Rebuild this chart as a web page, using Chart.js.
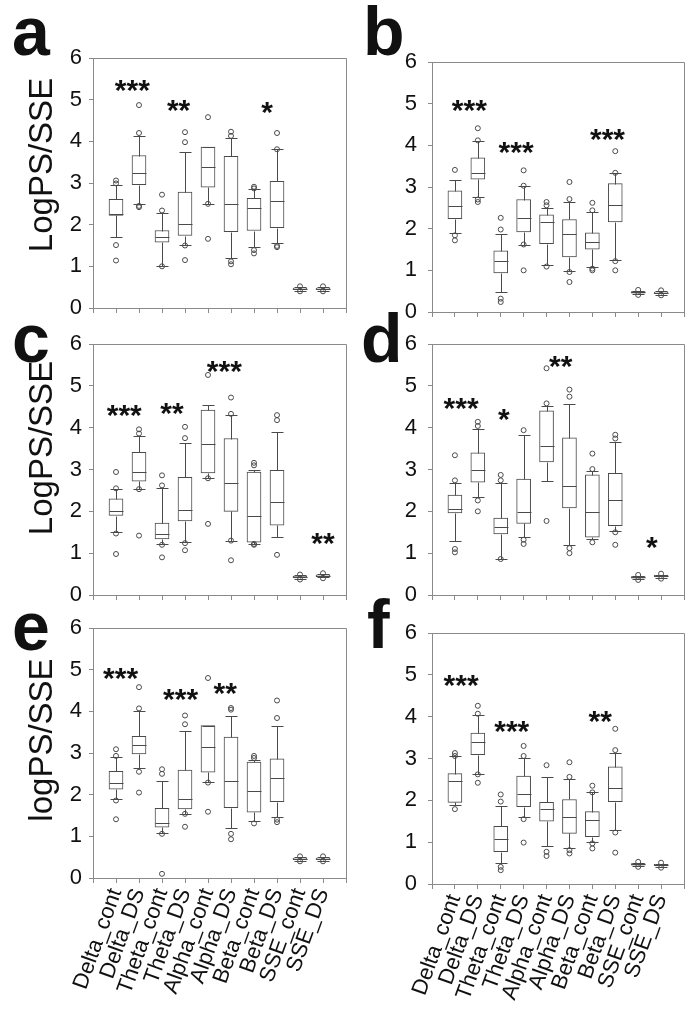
<!DOCTYPE html>
<html>
<head>
<meta charset="utf-8">
<script src="https://cdn.jsdelivr.net/npm/chart.js@4/dist/chart.umd.min.js"></script>
<style>
  body { margin: 0; background: #fff; width: 698px; height: 1011px; position: relative; overflow: hidden;
         font-family: "Liberation Sans", Arial, sans-serif; color: #111; }
  canvas { position: absolute; }
  .letter { position: absolute; font-weight: bold; font-size: 68px; line-height: 1; }
  .ytitle { position: absolute; font-size: 33px; line-height: 1; white-space: nowrap;
            transform: translate(-50%, -50%) rotate(-90deg); }
</style>
</head>
<body>
<script>
// categories shared by all six panels
const categories = ['Delta_cont', 'Delta_DS', 'Theta_cont', 'Theta_DS', 'Alpha_cont',
                    'Alpha_DS', 'Beta_cont', 'Beta_DS', 'SSE_cont', 'SSE_DS'];
const yTicks = [0, 1, 2, 3, 4, 5, 6];

// boxes: [lower whisker, Q1, median, Q3, upper whisker]
const aBoxes = [
    [1.71, 2.22, 2.26, 2.61, 2.95], [2.50, 2.96, 3.24, 3.66, 4.12], [1.01, 1.58, 1.70, 1.86, 2.28],
    [1.52, 1.74, 2.01, 2.78, 3.75], [2.50, 2.90, 3.38, 3.86, 3.86], [1.21, 1.83, 2.50, 3.64, 4.07],
    [1.46, 1.86, 2.39, 2.63, 2.85], [1.55, 1.93, 2.57, 3.04, 3.81], [0.42, 0.44, 0.46, 0.48, 0.50],
    [0.42, 0.44, 0.46, 0.48, 0.50],
];
const aOutliers = [
    [3.06, 2.99, 1.51, 1.14], [4.87, 4.20, 2.45, 2.42], [2.72, 2.34, 1.00], [4.22, 3.98, 1.50, 1.15],
    [4.58, 2.50, 1.66], [4.23, 4.13, 1.12, 1.05], [2.91, 2.87, 1.39, 1.31], [4.20, 3.81, 1.49, 1.46],
    [0.52, 0.40], [0.52, 0.40],
];
const aStars = [{ x: 1.71, y: 5.41, t: '***' }, { x: 3.72, y: 4.93, t: '**' }, { x: 7.57, y: 4.87, t: '*' }];

const bBoxes = [
    [1.90, 2.24, 2.55, 2.91, 3.18], [2.77, 3.19, 3.33, 3.70, 4.10], [0.48, 0.94, 1.23, 1.47, 1.88],
    [1.62, 1.92, 2.26, 2.70, 3.03], [1.14, 1.64, 2.15, 2.33, 2.50], [0.98, 1.32, 1.88, 2.22, 2.63],
    [1.08, 1.51, 1.67, 1.90, 2.39], [1.24, 2.16, 2.56, 3.08, 3.33], [0.43, 0.45, 0.47, 0.49, 0.51],
    [0.42, 0.44, 0.46, 0.48, 0.50],
];
const bOutliers = [
    [3.41, 1.84, 1.72], [4.41, 4.12, 2.70, 2.64], [2.26, 1.98, 0.32, 0.24], [3.40, 3.03, 1.62, 1.00],
    [2.64, 2.56, 1.09], [3.12, 2.71, 0.96, 0.72], [2.62, 2.44, 1.04, 1.00], [3.86, 3.34, 1.22, 1.00],
    [0.53, 0.41], [0.52, 0.40],
];
const bStars = [{ x: 1.63, y: 5.02, t: '***' }, { x: 3.67, y: 4.02, t: '***' }, { x: 7.66, y: 4.31, t: '***' }];

const cBoxes = [
    [1.51, 1.90, 2.01, 2.30, 2.53], [2.53, 2.72, 2.94, 3.41, 3.80], [1.22, 1.34, 1.47, 1.72, 2.55],
    [1.26, 1.77, 2.04, 2.81, 3.63], [2.79, 2.92, 3.62, 4.42, 4.54], [1.30, 2.00, 2.68, 3.74, 4.31],
    [1.23, 1.26, 1.89, 2.94, 2.98], [1.39, 1.67, 2.22, 2.98, 3.90], [0.39, 0.41, 0.43, 0.45, 0.47],
    [0.42, 0.44, 0.46, 0.48, 0.50],
];
const cOutliers = [
    [2.94, 2.55, 1.47, 0.98], [3.96, 3.86, 2.53, 1.42], [2.86, 2.62, 1.20, 0.90], [4.02, 3.75, 1.24, 1.07],
    [5.26, 2.79, 1.70], [4.72, 4.33, 1.30, 0.83], [3.16, 3.10, 1.22, 1.20], [4.30, 4.18, 0.96],
    [0.49, 0.37], [0.52, 0.40],
];
const cStars = [{ x: 1.36, y: 4.46, t: '***' }, { x: 3.43, y: 4.52, t: '**' }, { x: 5.71, y: 5.51, t: '***' },
                { x: 10.0, y: 1.40, t: '**' }];

const dBoxes = [
    [1.28, 1.96, 2.06, 2.39, 2.68], [2.34, 2.70, 2.99, 3.40, 3.98], [0.86, 1.46, 1.62, 1.84, 2.67],
    [1.38, 1.71, 1.98, 2.77, 3.82], [2.73, 3.18, 3.56, 4.40, 4.52], [1.20, 2.08, 2.61, 3.76, 4.56],
    [1.35, 1.38, 1.98, 2.87, 2.96], [1.53, 1.66, 2.26, 2.91, 3.66], [0.38, 0.40, 0.42, 0.44, 0.46],
    [0.41, 0.43, 0.45, 0.47, 0.49],
];
const dOutliers = [
    [3.34, 2.74, 1.10, 1.02], [4.14, 4.04, 2.26, 2.00], [2.87, 2.74, 0.86], [3.94, 1.32, 1.22],
    [5.42, 4.58, 1.77], [4.91, 4.74, 1.12, 1.00], [3.38, 3.01, 1.26], [3.83, 3.74, 1.50, 1.20],
    [0.48, 0.36], [0.51, 0.39],
];
const dStars = [{ x: 1.27, y: 4.64, t: '***' }, { x: 3.14, y: 4.38, t: '*' }, { x: 5.62, y: 5.64, t: '**' },
                { x: 9.6, y: 1.32, t: '*' }];

const eBoxes = [
    [1.90, 2.13, 2.28, 2.56, 2.90], [2.65, 2.98, 3.19, 3.40, 4.00], [1.07, 1.22, 1.33, 1.67, 2.34],
    [1.54, 1.66, 1.90, 2.59, 3.53], [2.31, 2.54, 3.15, 3.66, 3.66], [1.20, 1.69, 2.34, 3.38, 3.90],
    [1.36, 1.58, 2.08, 2.78, 2.84], [1.46, 1.83, 2.39, 2.86, 3.66], [0.42, 0.44, 0.46, 0.48, 0.50],
    [0.42, 0.44, 0.46, 0.48, 0.50],
];
const eOutliers = [
    [3.09, 2.93, 1.86, 1.41], [4.58, 4.07, 2.55, 2.05], [2.61, 2.50, 1.06, 0.10], [3.90, 3.69, 1.54, 1.23],
    [4.80, 2.29, 1.59], [4.08, 4.04, 1.06, 0.93], [2.93, 2.88, 1.31], [4.26, 3.84, 1.40, 1.34],
    [0.52, 0.40], [0.52, 0.40],
];
const eStars = [{ x: 1.2, y: 4.96, t: '***' }, { x: 3.81, y: 4.46, t: '***' }, { x: 5.75, y: 4.61, t: '**' }];

const fBoxes = [
    [1.90, 1.95, 2.47, 2.64, 3.05], [2.62, 3.09, 3.39, 3.61, 4.03], [0.51, 0.77, 1.08, 1.38, 1.86],
    [1.59, 1.85, 2.16, 2.58, 3.02], [0.91, 1.50, 1.80, 1.95, 2.56], [0.85, 1.21, 1.59, 2.02, 2.51],
    [1.01, 1.13, 1.54, 1.73, 2.19], [1.29, 1.97, 2.30, 2.80, 3.14], [0.43, 0.45, 0.47, 0.49, 0.51],
    [0.41, 0.43, 0.45, 0.47, 0.49],
];
const fOutliers = [
    [3.13, 3.06, 1.79], [4.26, 4.07, 2.62, 2.42], [2.14, 1.97, 0.41, 0.33], [3.30, 3.06, 1.55, 0.99],
    [2.84, 0.77, 0.67], [2.91, 2.56, 0.81, 0.73], [2.35, 2.19, 0.97, 0.85], [3.71, 3.20, 1.23, 0.75],
    [0.53, 0.41], [0.51, 0.39],
];
const fStars = [{ x: 1.27, y: 4.92, t: '***' }, { x: 3.48, y: 3.83, t: '***' }, { x: 7.34, y: 4.06, t: '**' }];

const FONT = '"Liberation Sans", Arial, sans-serif';
const LINE = '#4a4a4a';
const AXIS = '#8a8a8a';

Chart.defaults.font.family = FONT;

// whiskers, caps, medians, frame and significance stars
const boxPlugin = {
    id: 'boxParts',
    afterDatasetsDraw(chart, args, opts) {
        const { ctx, chartArea: area, scales: { x, y } } = chart;
        ctx.save();
        ctx.strokeStyle = LINE;
        ctx.lineWidth = 1;
        ctx.beginPath();
        opts.boxes.forEach((b, i) => {
            const cx = Math.round(x.getPixelForValue(i + 1)) + 0.5;
            const [lo, q1, med, q3, hi] = b.map(v => Math.round(y.getPixelForValue(v)) + 0.5);
            ctx.moveTo(cx, q3); ctx.lineTo(cx, hi);
            ctx.moveTo(cx, q1); ctx.lineTo(cx, lo);
            ctx.moveTo(cx - 6, hi); ctx.lineTo(cx + 6, hi);
            ctx.moveTo(cx - 6, lo); ctx.lineTo(cx + 6, lo);
            ctx.moveTo(cx - 7, med); ctx.lineTo(cx + 7, med);
        });
        ctx.stroke();

        ctx.strokeStyle = AXIS;
        ctx.beginPath();
        ctx.moveTo(area.left, Math.round(area.top) + 0.5);
        ctx.lineTo(Math.round(area.right) + 0.5, Math.round(area.top) + 0.5);
        ctx.lineTo(Math.round(area.right) + 0.5, area.bottom);
        ctx.stroke();

        ctx.fillStyle = '#111';
        ctx.font = 'bold 30px ' + FONT;
        ctx.textAlign = 'center';
        ctx.textBaseline = 'alphabetic';
        opts.stars.forEach(s => {
            ctx.fillText(s.t, x.getPixelForValue(s.x), y.getPixelForValue(s.y) + 17);
        });
        ctx.restore();
    },
};

const panels = [
    { letter: 'a', boxes: aBoxes, outliers: aOutliers, stars: aStars, rect: [93, 58, 346, 308], labels: false, title: 'LogPS/SSE', tx: 40, ty: 165, lx: 12, ly: 55, pad: 7 },
    { letter: 'b', boxes: bBoxes, outliers: bOutliers, stars: bStars, rect: [432, 62, 684, 312], labels: false, title: '', lx: 363, ly: 55, pad: 11 },
    { letter: 'c', boxes: cBoxes, outliers: cOutliers, stars: cStars, rect: [93, 344, 346, 595], labels: false, title: 'LogPS/SSE', tx: 40, ty: 448, lx: 12, ly: 362, pad: 7 },
    { letter: 'd', boxes: dBoxes, outliers: dOutliers, stars: dStars, rect: [432, 344, 684, 595], labels: false, title: '', lx: 361, ly: 362, pad: 11 },
    { letter: 'e', boxes: eBoxes, outliers: eOutliers, stars: eStars, rect: [93, 628, 346, 878], labels: true, title: 'logPS/SSE', tx: 40, ty: 740, lx: 12, ly: 650, pad: 7 },
    { letter: 'f', boxes: fBoxes, outliers: fOutliers, stars: fStars, rect: [432, 633, 684, 884], labels: true, title: '', lx: 367, ly: 648, pad: 11 },
];

function addText(cls, text, css) {
    const el = document.createElement('div');
    el.className = cls;
    el.textContent = text;
    Object.assign(el.style, css);
    document.body.appendChild(el);
}

// lock the plot area to the given rect: fixed axis sizes, no extra label padding
function lockScale(size, key) {
    return s => {
        s[key] = size;
        s.paddingLeft = 0; s.paddingRight = 0; s.paddingTop = 0; s.paddingBottom = 0;
    };
}

function makePanel(p) {
    const [l, t, r, b] = p.rect;
    const yw = 48, margin = 14;
    const bottomExtra = p.labels ? 127 : 14;
    const L = l - yw, T = t - margin;
    const W = r + margin - L, H = b + bottomExtra - T;

    const cv = document.createElement('canvas');
    cv.width = W; cv.height = H;
    cv.style.left = L + 'px'; cv.style.top = T + 'px';
    document.body.appendChild(cv);

    new Chart(cv, {
        type: 'bar',
        data: {
            datasets: [
                {
                    type: 'bar',
                    data: p.boxes.map((bx, i) => ({ x: i + 1, y: [bx[1], bx[3]] })),
                    backgroundColor: '#fff',
                    borderColor: LINE,
                    borderWidth: 1,
                    borderSkipped: false,
                    barThickness: 14,
                    order: 2,
                },
                {
                    type: 'scatter',
                    data: p.outliers.flatMap((arr, i) => arr.map(v => ({ x: i + 1, y: v }))),
                    pointRadius: 2.5,
                    pointBorderWidth: 1,
                    pointBackgroundColor: 'rgba(255,255,255,0)',
                    pointBorderColor: LINE,
                    order: 1,
                },
            ],
        },
        options: {
            responsive: false,
            animation: false,
            layout: { padding: { left: 0, top: margin, right: margin, bottom: 0 } },
            plugins: {
                legend: { display: false },
                tooltip: { enabled: false },
                boxParts: { boxes: p.boxes, stars: p.stars },
            },
            scales: {
                x: {
                    type: 'linear', min: 0, max: 11, offset: false,
                    grid: { offset: false, drawOnChartArea: false, tickLength: 5, color: AXIS },
                    border: { color: AXIS },
                    ticks: {
                        stepSize: 1, autoSkip: false, minRotation: 70, maxRotation: 70,
                        padding: 2, color: '#111', font: { size: 22 },
                        callback: v => p.labels ? (categories[v - 1] || '') : '',
                    },
                    afterFit: lockScale(bottomExtra, 'height'),
                },
                y: {
                    min: yTicks[0], max: yTicks[yTicks.length - 1],
                    grid: { drawOnChartArea: false, tickLength: 4, color: AXIS },
                    border: { color: AXIS },
                    ticks: { stepSize: 1, padding: p.pad, color: '#111', font: { size: 22 } },
                    afterFit: lockScale(yw, 'width'),
                },
            },
        },
        plugins: [boxPlugin],
    });

    addText('letter', p.letter, { left: p.lx + 'px', top: (p.ly - 57.6) + 'px' });
    if (p.title) addText('ytitle', p.title, { left: p.tx + 'px', top: p.ty + 'px' });
}

panels.forEach(makePanel);
</script>
</body>
</html>
